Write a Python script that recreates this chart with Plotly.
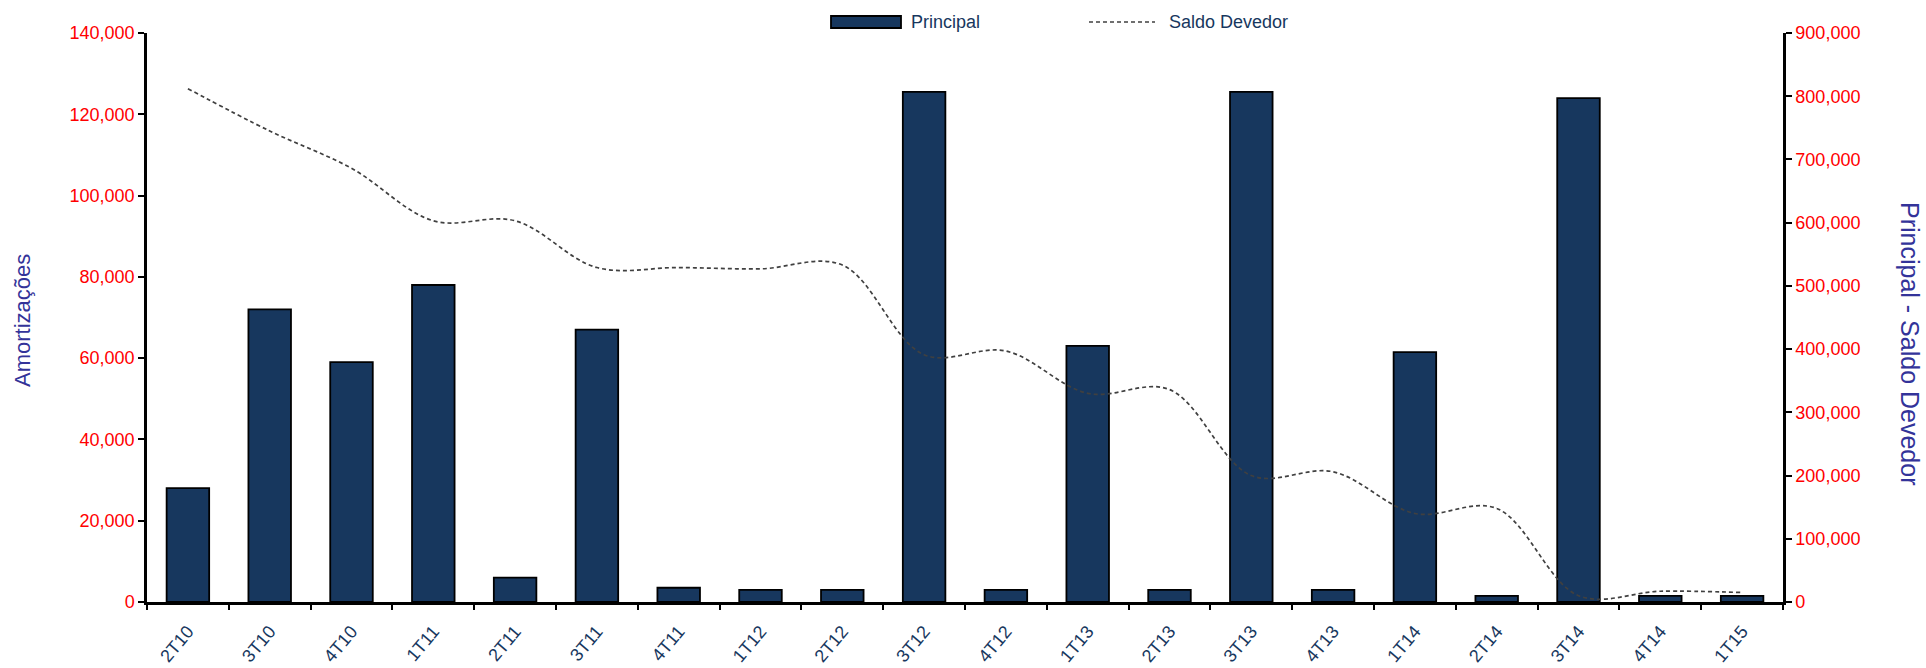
import numpy as np
import plotly.graph_objects as go

# Quarterly periods
quarters = ["2T10", "3T10", "4T10", "1T11", "2T11", "3T11", "4T11", "1T12", "2T12", "3T12",
            "4T12", "1T13", "2T13", "3T13", "4T13", "1T14", "2T14", "3T14", "4T14", "1T15"]

# Principal amortization per quarter (left axis)
principal = [28000, 72000, 59000, 78000, 6000, 67000, 3500, 3000, 3000, 125500,
             3000, 63000, 3000, 125500, 3000, 61500, 1500, 124000, 1500, 1500]

# Outstanding balance (right axis)
saldo_devedor = [812000, 745000, 686000, 603000, 603000, 529000, 529000, 527000, 533000, 391000,
                 397000, 330000, 336000, 200000, 206000, 140000, 148000, 10000, 17000, 15000]

left_ticks = [0, 20000, 40000, 60000, 80000, 100000, 120000, 140000]
right_ticks = [0, 100000, 200000, 300000, 400000, 500000, 600000, 700000, 800000, 900000]

FONT = "Liberation Sans, Arial, sans-serif"
NAVY = "#17375E"
RED = "#FF0000"
TITLE_BLUE = "#333399"

W, H = 1926, 668
L, R, T, B = 147, 143, 33, 66
plot_w = W - L - R
plot_h = H - T - B


def px_x(p):
    return (p - L) / plot_w


def px_y(p):
    return 1 + (T - p) / plot_h


fig = go.Figure()

fig.add_trace(go.Bar(
    x=quarters, y=principal, name="Principal",
    marker=dict(color=NAVY, line=dict(color="black", width=1.8)),
    yaxis="y", showlegend=False,
))

fig.add_trace(go.Scatter(
    x=quarters, y=saldo_devedor, name="Saldo Devedor", mode="lines",
    line=dict(color="#404040", width=1.7, dash="4px,3px", shape="spline", smoothing=1.0),
    yaxis="y2", showlegend=False,
))

n = len(quarters)
boundaries = np.arange(n + 1) - 0.5

axis_common = dict(showgrid=False, zeroline=False, linecolor="black", linewidth=2.5,
                   tickcolor="black", tickwidth=2, automargin=False)
overlay_common = dict(showticklabels=False, showline=False, showgrid=False, zeroline=False,
                      tickcolor="black", tickwidth=2, automargin=False)

fig.update_layout(
    template="none",
    width=W, height=H,
    margin=dict(l=L, r=R, t=T, b=B, pad=0, autoexpand=False),
    paper_bgcolor="white", plot_bgcolor="white",
    font=dict(family=FONT, size=18),
    bargap=0.48,
    xaxis=dict(
        type="category", range=[-0.5, n - 0.5], showline=True, ticks="outside",
        tickson="boundaries", ticklen=5, tickangle=-50, ticklabelstandoff=9,
        tickfont=dict(color=NAVY, size=18, family=FONT), **axis_common,
    ),
    xaxis2=dict(
        overlaying="x", anchor="y", range=[-0.5, n - 0.5], tickvals=boundaries,
        ticks="inside", ticklen=6, **overlay_common,
    ),
    yaxis=dict(
        range=[0, 140000], tickvals=left_ticks, tickformat=",d", showline=True,
        ticks="outside", ticklen=6, tickfont=dict(color=RED, size=18, family=FONT),
        **axis_common,
    ),
    yaxis2=dict(
        range=[0, 900000], tickvals=right_ticks, tickformat=",d", overlaying="y",
        side="right", anchor="x", showline=True, ticks="outside", ticklen=6,
        tickfont=dict(color=RED, size=18, family=FONT), **axis_common,
    ),
    yaxis3=dict(
        range=[0, 140000], tickvals=left_ticks, overlaying="y", side="left", anchor="x",
        ticks="inside", ticklen=5, **overlay_common,
    ),
    yaxis4=dict(
        range=[0, 900000], tickvals=right_ticks, overlaying="y", side="right", anchor="x",
        ticks="inside", ticklen=5, **overlay_common,
    ),
    showlegend=False,
)

# Axis titles
fig.add_annotation(text="Amortizações", xref="paper", yref="paper", x=px_x(22), y=px_y(320),
                   textangle=-90, showarrow=False, xanchor="center", yanchor="middle",
                   font=dict(color=TITLE_BLUE, size=22, family=FONT))
fig.add_annotation(text="Principal - Saldo Devedor", xref="paper", yref="paper", x=px_x(1910),
                   y=px_y(343), textangle=90, showarrow=False, xanchor="center", yanchor="middle",
                   font=dict(color=TITLE_BLUE, size=25, family=FONT))

# Legend entries
fig.add_shape(type="rect", xref="paper", yref="paper",
              x0=px_x(831), x1=px_x(901), y0=px_y(28), y1=px_y(16),
              fillcolor=NAVY, line=dict(color="black", width=1.8))
fig.add_annotation(text="Principal", xref="paper", yref="paper", x=px_x(909), y=px_y(22),
                   xanchor="left", yanchor="middle", showarrow=False,
                   font=dict(color=NAVY, size=18, family=FONT))
fig.add_shape(type="line", xref="paper", yref="paper",
              x0=px_x(1089), x1=px_x(1155), y0=px_y(22), y1=px_y(22),
              line=dict(color="#404040", width=1.7, dash="4px,3px"))
fig.add_annotation(text="Saldo Devedor", xref="paper", yref="paper", x=px_x(1167), y=px_y(22),
                   xanchor="left", yanchor="middle", showarrow=False,
                   font=dict(color=NAVY, size=18, family=FONT))

fig.write_html("out.html")
